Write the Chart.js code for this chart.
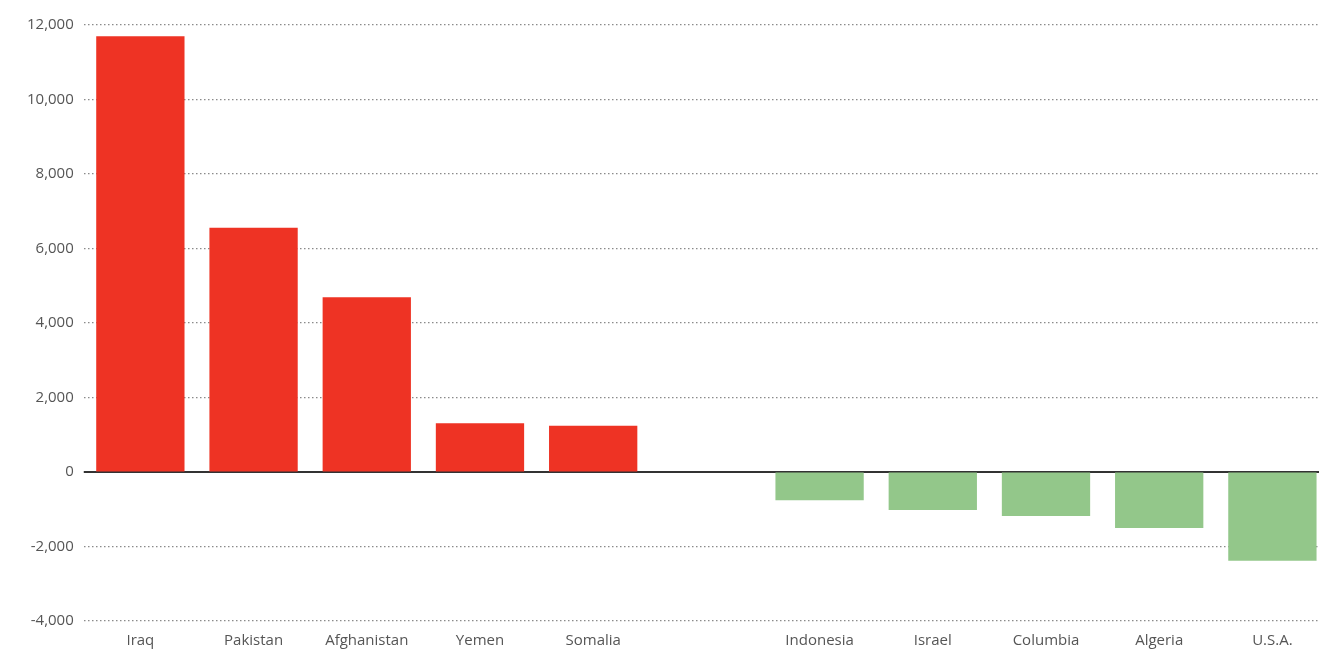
<!DOCTYPE html>
<html>
<head>
<meta charset="utf-8">
<script src="https://cdn.jsdelivr.net/npm/chart.js@4.4.0/dist/chart.umd.min.js"></script>
<style>
  html, body { margin: 0; padding: 0; background: #fff; overflow: hidden; }
  #wrap { width: 1329px; height: 653px; }
</style>
</head>
<body>
<div id="wrap"><canvas id="chart"></canvas></div>
<script>
  // countries, with an empty slot between the two groups
  const countries = ["Iraq", "Pakistan", "Afghanistan", "Yemen", "Somalia", "", "Indonesia", "Israel", "Columbia", "Algeria", "U.S.A."];
  const values = [11700, 6560, 4690, 1310, 1240, null, -760, -1020, -1180, -1500, -2380];
  const yTicks = [-4000, -2000, 0, 2000, 4000, 6000, 8000, 10000, 12000];

  const red = "#ee3324";
  const green = "#93c78a";
  const fontFamily = "'Open Sans', 'Liberation Sans', Arial, sans-serif";

  // zero line sits behind the bars
  const zeroLine = {
    id: "zeroLine",
    beforeDatasetsDraw(chart) {
      const { ctx, chartArea, scales } = chart;
      const y = scales.y.getPixelForValue(0);
      ctx.save();
      ctx.strokeStyle = "#333";
      ctx.lineWidth = 2;
      ctx.beginPath();
      ctx.moveTo(chartArea.left, y);
      ctx.lineTo(chartArea.right, y);
      ctx.stroke();
      ctx.restore();
    }
  };

  new Chart(document.getElementById("chart"), {
    type: "bar",
    data: {
      labels: countries,
      datasets: [{
        data: values,
        backgroundColor: ctx => (ctx.raw < 0 ? green : red),
        barPercentage: 0.78,
        categoryPercentage: 1
      }]
    },
    options: {
      responsive: true,
      maintainAspectRatio: false,
      animation: false,
      layout: { padding: { top: 25, right: 0, left: 17, bottom: 0 } },
      plugins: { legend: { display: false }, tooltip: { enabled: false } },
      scales: {
        x: {
          grid: { display: false },
          border: { display: false },
          ticks: { color: "#555", font: { family: fontFamily, size: 15 }, padding: 3, maxRotation: 0 }
        },
        y: {
          min: -4000,
          max: 12000,
          afterBuildTicks: axis => { axis.ticks = yTicks.map(v => ({ value: v })); },
          grid: {
            color: c => (c.tick && c.tick.value === 0 ? "rgba(0,0,0,0)" : "#8a8a8a"),
            lineWidth: 1.2,
            drawTicks: false
          },
          border: { display: false, dash: [1.5, 2.5] },
          ticks: {
            color: "#555",
            font: { family: fontFamily, size: 15 },
            padding: 10,
            callback: v => v.toLocaleString("en-US")
          }
        }
      }
    },
    plugins: [zeroLine]
  });
</script>
</body>
</html>
